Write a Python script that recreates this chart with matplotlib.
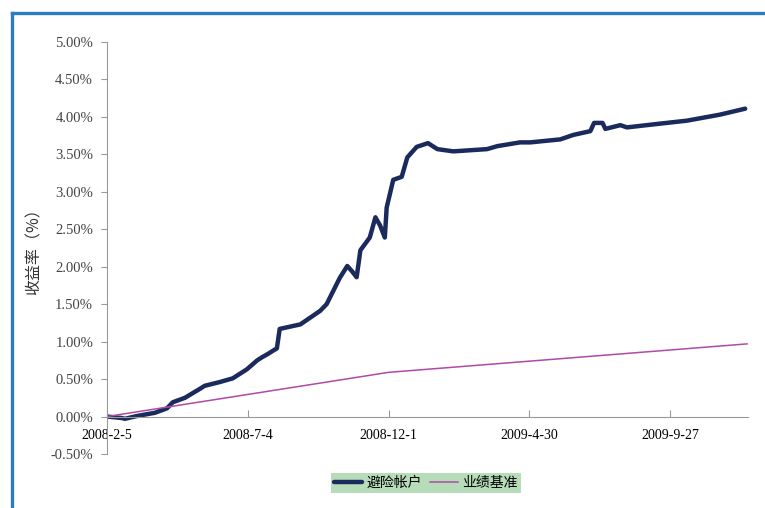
import matplotlib
matplotlib.use("Agg")
import matplotlib.pyplot as plt
from matplotlib.lines import Line2D
import pandas as pd

# ---- data ----
account_dates = [
    "2008-02-05", "2008-02-21", "2008-02-24", "2008-03-09", "2008-03-27", "2008-04-09",
    "2008-04-15", "2008-04-28", "2008-05-14", "2008-05-19", "2008-06-04", "2008-06-18",
    "2008-07-03", "2008-07-14", "2008-07-19", "2008-07-26", "2008-07-31",
    "2008-08-04", "2008-08-07", "2008-08-29", "2008-09-19", "2008-09-26", "2008-10-10",
    "2008-10-18", "2008-10-23", "2008-10-28", "2008-11-01", "2008-11-11", "2008-11-17",
    "2008-11-22", "2008-11-27", "2008-11-29", "2008-12-06", "2008-12-15", "2008-12-21",
    "2008-12-31", "2009-01-12", "2009-01-22", "2009-02-08", "2009-03-16", "2009-03-27",
    "2009-04-20", "2009-05-01", "2009-06-02", "2009-06-16", "2009-07-04", "2009-07-08",
    "2009-07-17", "2009-07-20", "2009-08-05", "2009-08-12", "2009-09-09", "2009-10-15",
    "2009-11-19", "2009-12-16",
]
account_values = [
    0.00, -0.02, -0.03, 0.01, 0.05, 0.11,
    0.19, 0.25, 0.37, 0.41, 0.46, 0.51,
    0.63, 0.75, 0.79, 0.84, 0.88,
    0.91, 1.17, 1.23, 1.41, 1.50, 1.85,
    2.01, 1.94, 1.86, 2.22, 2.39, 2.66,
    2.55, 2.39, 2.79, 3.16, 3.20, 3.46,
    3.60, 3.65, 3.57, 3.54, 3.57, 3.61,
    3.66, 3.66, 3.70, 3.76, 3.81, 3.92,
    3.92, 3.84, 3.89, 3.86, 3.90, 3.95,
    4.03, 4.11,
]
bench_dates = ["2008-02-05", "2008-12-01", "2009-12-18"]
bench_values = [0.00, 0.59, 0.97]

x_ticks = ["2008-02-05", "2008-07-04", "2008-12-01", "2009-04-30", "2009-09-27"]
x_ticklabels = ["2008-2-5", "2008-7-4", "2008-12-1", "2009-4-30", "2009-9-27"]
y_ticks = [-0.5, 0.0, 0.5, 1.0, 1.5, 2.0, 2.5, 3.0, 3.5, 4.0, 4.5, 5.0]
series_names = ["避险帐户", "业绩基准"]
y_label = "收益率（%）"

# ---- plot ----
plt.rcParams['font.family'] = ['Liberation Serif', 'Noto Sans CJK SC', 'DejaVu Sans']

fig = plt.figure(figsize=(7.65, 5.08), dpi=100)
ax = fig.add_axes([107/765, 1-454/508, (748-107)/765, (454-42)/508])

ad = pd.to_datetime(account_dates)
bd = pd.to_datetime(bench_dates)

l1, = ax.plot(ad, account_values, color="#1b2a5c", lw=3.2, solid_joinstyle="round",
              solid_capstyle="round")
l2, = ax.plot(bd, bench_values, color="#b04aa6", lw=1.1)

ax.set_xlim(pd.Timestamp("2008-02-05"), pd.Timestamp("2009-12-19"))
ax.set_ylim(-0.5, 5.0)

ax.set_yticks(y_ticks)
ax.set_yticklabels([f"{v:.2f}%" for v in y_ticks], fontsize=10.5, color="#444444")
ax.set_xticks(pd.to_datetime(x_ticks))
ax.set_xticklabels(x_ticklabels, fontsize=11, color="#444444")

for s in ["top", "right"]:
    ax.spines[s].set_visible(False)
ax.spines["left"].set_color("#999999")
ax.spines["bottom"].set_color("#999999")
ax.spines["bottom"].set_position(("data", 0))
ax.tick_params(axis="y", direction="out", length=4, color="#999999", pad=6)
ax.tick_params(axis="x", direction="in", length=5, color="#999999", pad=9)

ax.set_ylabel(y_label, fontsize=11.5, family=['Noto Sans CJK SC', 'DejaVu Sans'], color="#333333")
ax.yaxis.set_label_coords(-64/641, 0.5)

leg = fig.legend([l1, l2], series_names, loc="center", bbox_to_anchor=(426/765, 1-483/508),
                 ncol=2, frameon=True, handlelength=2.0, columnspacing=0.6,
                 handletextpad=0.3, borderpad=0.25, prop={'family': ['Noto Sans CJK SC'], 'size': 10})
leg.get_frame().set_facecolor("#b7dcb9")
leg.get_frame().set_edgecolor("none")
leg.get_frame().set_boxstyle("square", pad=0)
leg.get_frame().set_alpha(1)

# blue frame border (left and top)
fig.add_artist(Line2D([11.5/765, 11.5/765], [0, 1-12.5/508], color="#2a7dc0", lw=2.4,
                      transform=fig.transFigure))
fig.add_artist(Line2D([11.5/765, 1], [1-12.5/508, 1-12.5/508], color="#2a7dc0", lw=2.4,
                      transform=fig.transFigure))

fig.savefig("out.png", dpi=100)
